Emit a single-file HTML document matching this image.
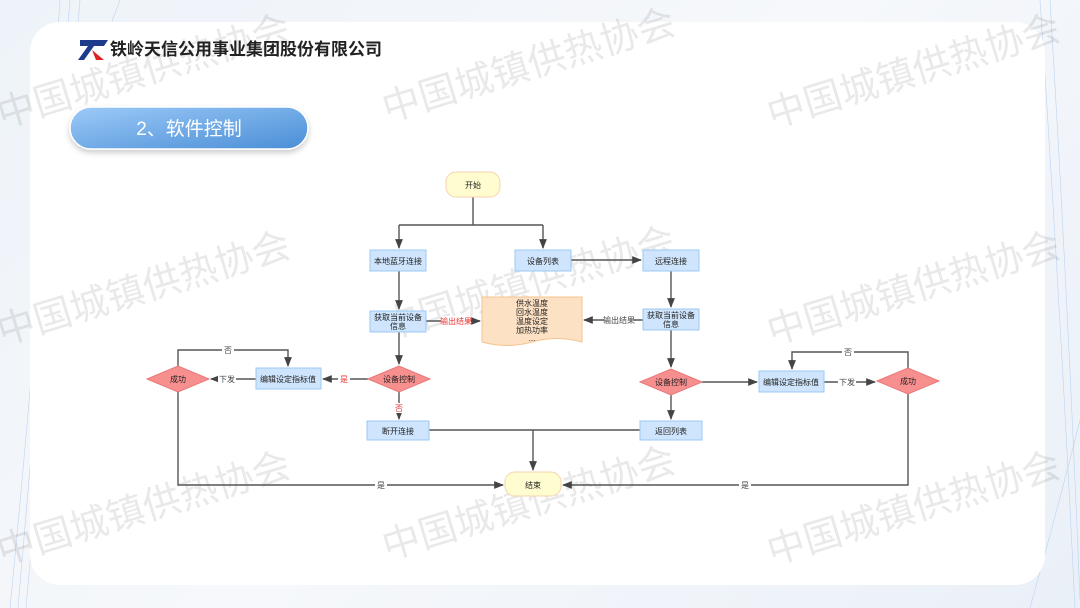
<!DOCTYPE html>
<html><head><meta charset="utf-8"><style>
html,body{margin:0;padding:0;}
body{width:1080px;height:608px;overflow:hidden;background:linear-gradient(135deg,#eef3f9,#f6f8fb 50%,#eaf0f8);font-family:"Liberation Sans","Noto Sans CJK SC",sans-serif;}
svg{display:block;}
</style></head><body>
<svg width="1080" height="608" viewBox="0 0 1080 608" xmlns="http://www.w3.org/2000/svg" font-family="Liberation Sans, Noto Sans CJK SC, sans-serif">
<defs>
<linearGradient id="tg" x1="0" y1="0" x2="1" y2="1"><stop offset="0" stop-color="#9ccaf8"/><stop offset="1" stop-color="#4a8ed6"/></linearGradient>
<marker id="a" viewBox="0 0 10 10" refX="9" refY="5" markerWidth="7" markerHeight="7" orient="auto"><path d="M0,1 L10,5 L0,9 z" fill="#444"/></marker>
<filter id="sh" x="-20%" y="-40%" width="140%" height="180%"><feDropShadow dx="0" dy="3" stdDeviation="3" flood-color="#000" flood-opacity="0.2"/></filter>
</defs>
<g stroke="#a9c6ee" stroke-width="0.6" fill="none" opacity="0.7">
<path d="M60,0 Q40,300 10,608"/><path d="M70,0 Q45,300 18,608"/><path d="M80,0 Q52,300 26,608"/><path d="M120,0 Q90,80 60,160"/>
<path d="M1040,0 Q1060,300 1075,608"/><path d="M1050,0 Q1068,300 1080,600"/><path d="M1030,608 Q1060,500 1080,420"/>
</g>
<rect x="30" y="22" width="1015" height="563" rx="30" fill="#fff"/>
<path d="M80,40 L108,40 L104,46 L94,46 L84,60 L78,60 L88,46 L80,46 z" fill="#1e3a8a"/>
<path d="M92,50 L104,60 L96,60 z" fill="#d22"/>
<text x="110" y="55" font-size="17" font-weight="bold" fill="#222">铁岭天信公用事业集团股份有限公司</text>
<rect x="70" y="107" width="238" height="42" rx="21" fill="url(#tg)" stroke="#fff" stroke-width="1.5" filter="url(#sh)"/>
<text x="189" y="135" font-size="19" fill="#fff" text-anchor="middle">2、软件控制</text>
<g font-size="38" fill="#000" opacity="0.09">
<text transform="translate(2,128) rotate(-17)">中国城镇供热协会</text>
<text transform="translate(387,122) rotate(-17)">中国城镇供热协会</text>
<text transform="translate(772,128) rotate(-17)">中国城镇供热协会</text>
<text transform="translate(2,345) rotate(-17)">中国城镇供热协会</text>
<text transform="translate(387,340) rotate(-17)">中国城镇供热协会</text>
<text transform="translate(772,345) rotate(-17)">中国城镇供热协会</text>
<text transform="translate(2,565) rotate(-17)">中国城镇供热协会</text>
<text transform="translate(387,560) rotate(-17)">中国城镇供热协会</text>
<text transform="translate(772,565) rotate(-17)">中国城镇供热协会</text>
</g>
<g stroke="#555" stroke-width="1.4" fill="none">
<path d="M473,197 V225 M399,225 H543 M399,225 V248" marker-end="url(#a)"/>
<path d="M543,225 V248" marker-end="url(#a)"/>
<path d="M399,271 V309" marker-end="url(#a)"/>
<path d="M399,332 V364" marker-end="url(#a)"/>
<path d="M399,392 V419" marker-end="url(#a)"/>
<path d="M426,321 H480" marker-end="url(#a)"/>
<path d="M368,379 H323" marker-end="url(#a)"/>
<path d="M256,379 H211" marker-end="url(#a)"/>
<path d="M178,366 V350 H288 V366" marker-end="url(#a)"/>
<path d="M178,392 V485 H503" marker-end="url(#a)"/>
<path d="M571,260 H641" marker-end="url(#a)"/>
<path d="M671,271 V307" marker-end="url(#a)"/>
<path d="M643,320 H584" marker-end="url(#a)"/>
<path d="M671,330 V367" marker-end="url(#a)"/>
<path d="M671,395 V419" marker-end="url(#a)"/>
<path d="M702,382 H757" marker-end="url(#a)"/>
<path d="M824,382 H875" marker-end="url(#a)"/>
<path d="M908,368 V352 H792 V369" marker-end="url(#a)"/>
<path d="M908,394 V485 H563" marker-end="url(#a)"/>
<path d="M429,430 H640 M533,430 V470" marker-end="url(#a)"/>
</g>
<g font-size="8" text-anchor="middle">
<rect x="441" y="316" width="30" height="10" fill="#fff"/><text x="456" y="324" fill="#e33">输出结果</text>
<rect x="604" y="315" width="30" height="10" fill="#fff"/><text x="619" y="323" fill="#444">输出结果</text>
<rect x="338" y="374" width="12" height="10" fill="#fff"/><text x="344" y="382" fill="#e33">是</text>
<rect x="218" y="374" width="18" height="10" fill="#fff"/><text x="227" y="382" fill="#444">下发</text>
<rect x="222" y="345" width="12" height="10" fill="#fff"/><text x="228" y="353" fill="#444">否</text>
<rect x="393" y="403" width="12" height="10" fill="#fff"/><text x="399" y="411" fill="#e33">否</text>
<rect x="375" y="480" width="12" height="10" fill="#fff"/><text x="381" y="488" fill="#444">是</text>
<rect x="739" y="480" width="12" height="10" fill="#fff"/><text x="745" y="488" fill="#444">是</text>
<rect x="838" y="377" width="18" height="10" fill="#fff"/><text x="847" y="385" fill="#444">下发</text>
<rect x="842" y="347" width="12" height="10" fill="#fff"/><text x="848" y="355" fill="#444">否</text>
</g>
<g font-size="8" text-anchor="middle" fill="#222">
<rect x="446" y="172" width="54" height="25" rx="10" fill="#fffdd0" stroke="#f6d3b0"/><text x="473" y="188">开始</text>
<rect x="505" y="472" width="56" height="24" rx="10" fill="#fffdd0" stroke="#f6d3b0"/><text x="533" y="488">结束</text>
<g fill="#cfe5fd" stroke="#9cc8f4">
<rect x="370" y="250" width="56" height="21"/><rect x="515" y="250" width="56" height="21"/><rect x="643" y="250" width="56" height="21"/>
<rect x="370" y="311" width="56" height="21"/><rect x="643" y="309" width="56" height="21"/>
<rect x="256" y="368" width="65" height="21"/><rect x="759" y="371" width="65" height="21"/>
<rect x="367" y="421" width="62" height="19"/><rect x="640" y="421" width="62" height="19"/>
</g>
<text x="398" y="264">本地蓝牙连接</text><text x="543" y="264">设备列表</text><text x="671" y="264">远程连接</text>
<text x="398" y="320">获取当前设备</text><text x="398" y="329">信息</text>
<text x="671" y="318">获取当前设备</text><text x="671" y="327">信息</text>
<text x="288" y="382">编辑设定指标值</text><text x="791" y="385">编辑设定指标值</text>
<text x="398" y="434">断开连接</text><text x="671" y="434">返回列表</text>
<g fill="#f88f8f" stroke="#e87878">
<path d="M368,379 L399,366 L430,379 L399,392 z"/><path d="M147,379 L178,366 L209,379 L178,392 z"/>
<path d="M640,382 L671,369 L702,382 L671,395 z"/><path d="M877,381 L908,368 L939,381 L908,394 z"/>
</g>
<text x="399" y="382">设备控制</text><text x="178" y="382">成功</text><text x="671" y="385">设备控制</text><text x="908" y="384">成功</text>
<path d="M482,297 H582 V342 Q557,335 532,342 Q507,349 482,342 z" fill="#fde1c4" stroke="#f6c48e"/>
<text x="532" y="306">供水温度</text><text x="532" y="315">回水温度</text><text x="532" y="324">温度设定</text><text x="532" y="333">加热功率</text><text x="532" y="341">...</text>
</g>
</svg>
</body></html>
